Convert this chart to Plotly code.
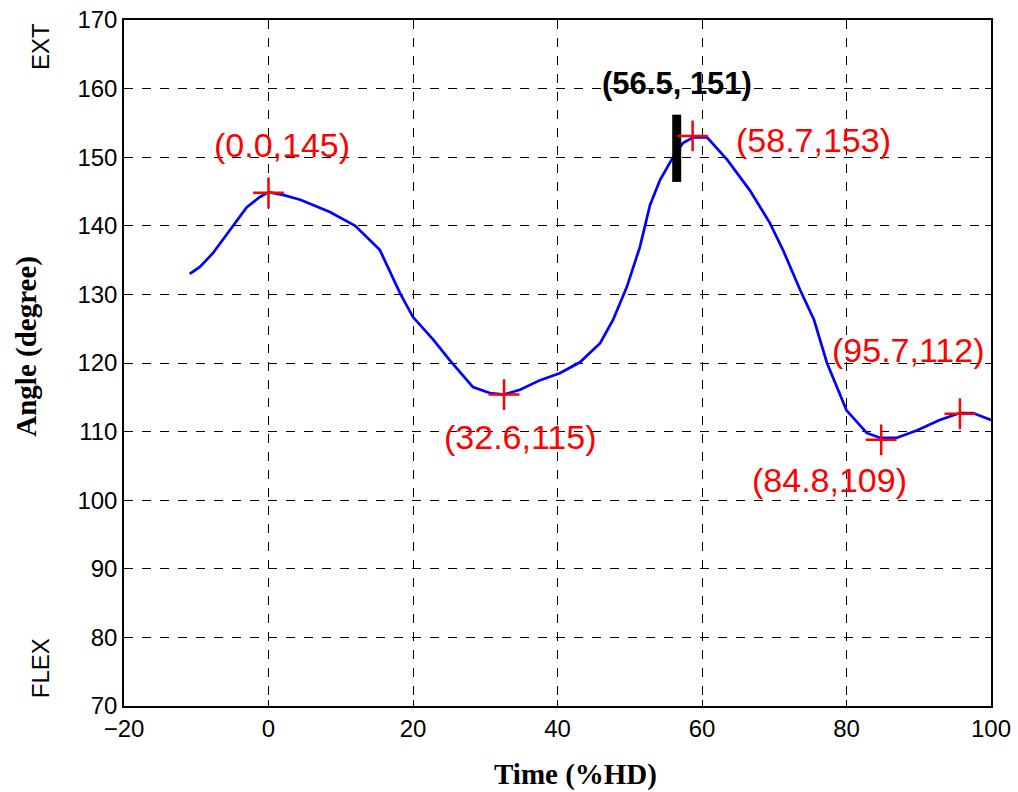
import plotly.graph_objects as go

# Curve data
curve_x = [-10.9, -9.5, -7.7, -5.3, -3.0, -1.2, 0, 2.0, 4.4, 8.5, 12, 15.4, 18.2, 20, 22.8, 25.1,
           28.3, 30.7, 32.6, 34.8, 37.6, 40.3, 43.1, 45.9, 47.7, 49.6, 51.4, 52.8, 54.2, 56.0,
           57.4, 58.8, 60.7, 63.5, 66.6, 69.4, 71.2, 73.6, 75.5, 77.3, 78.7, 80.0, 82.8, 84.6,
           87.0, 89.8, 92.9, 95.7, 97.5, 100]
curve_y = [133.0, 134.0, 136.0, 139.4, 142.7, 144.2, 144.9, 144.5, 143.8, 142.0, 140.0, 136.5,
           130.2, 126.7, 123.4, 120.4, 116.5, 115.6, 115.4, 116.1, 117.5, 118.5, 120.1, 122.9,
           126.3, 131.1, 136.9, 143.0, 146.7, 150.0, 152.1, 152.9, 152.9, 149.6, 145.2, 140.4,
           136.5, 130.6, 126.3, 120.0, 116.5, 113.1, 109.8, 109.1, 109.1, 110.2, 111.7, 112.7,
           112.7, 111.7]

# Marked extrema
peak_x = [0.0, 32.6, 58.7, 84.8, 95.7]
peak_y = [144.8, 115.4, 153.1, 108.8, 112.6]
peak_labels = ["(0.0,145)", "(32.6,115)", "(58.7,153)", "(84.8,109)", "(95.7,112)"]
label_x = [1.9, 34.8, 75.4, 77.7, 88.5]
label_y = [151.8, 109.2, 152.5, 102.9, 121.9]

# Cursor bar
bar_x = [56.5, 56.5]
bar_y = [146.4, 156.2]
bar_label = "(56.5, 151)"
bar_label_pos = (56.6, 160.8)

x_ticks = [-20, 0, 20, 40, 60, 80, 100]
y_ticks = [70, 80, 90, 100, 110, 120, 130, 140, 150, 160, 170]

fig = go.Figure()
fig.add_trace(go.Scatter(x=curve_x, y=curve_y, mode="lines",
                         line=dict(color="#0000ff", width=2.7), showlegend=False))
fig.add_trace(go.Scatter(x=bar_x, y=bar_y, mode="lines",
                         line=dict(color="black", width=9), showlegend=False))
fig.add_trace(go.Scatter(x=peak_x, y=peak_y, mode="markers",
                         marker=dict(symbol="cross-thin", size=22, color="red",
                                     line=dict(color="red", width=2.5)),
                         showlegend=False))

annotations = []
for lx, ly, t in zip(label_x, label_y, peak_labels):
    annotations.append(dict(x=lx, y=ly, xref="x", yref="y", text=t, showarrow=False,
                            font=dict(family="Liberation Sans, Arial", size=34, color="red")))
annotations.append(dict(x=bar_label_pos[0], y=bar_label_pos[1], xref="x", yref="y",
                        text="<b>" + bar_label + "</b>", showarrow=False,
                        font=dict(family="Liberation Sans, Arial", size=31, color="black")))
annotations.append(dict(x=-0.097, y=0.962, xref="paper", yref="paper", text="EXT",
                        textangle=-90, showarrow=False, xanchor="center", yanchor="middle",
                        font=dict(family="Liberation Sans, Arial", size=24, color="black")))
annotations.append(dict(x=-0.097, y=0.055, xref="paper", yref="paper", text="FLEX",
                        textangle=-90, showarrow=False, xanchor="center", yanchor="middle",
                        font=dict(family="Liberation Sans, Arial", size=24, color="black")))
annotations.append(dict(x=-0.112, y=0.525, xref="paper", yref="paper", text="<b>Angle (degree)</b>",
                        textangle=-90, showarrow=False, xanchor="center", yanchor="middle",
                        font=dict(family="Liberation Serif, Times New Roman", size=29, color="black")))
annotations.append(dict(x=0.521, y=-0.100, xref="paper", yref="paper", text="<b>Time (%HD)</b>",
                        showarrow=False, xanchor="center", yanchor="middle",
                        font=dict(family="Liberation Serif, Times New Roman", size=29, color="black")))

axis_common = dict(showline=True, linecolor="black", linewidth=1.5, mirror="ticks",
                   ticks="inside", ticklen=6, tickcolor="black",
                   showgrid=True, gridcolor="black", griddash="dash", gridwidth=1,
                   zeroline=False, ticklabeloverflow="allow", automargin=False,
                   tickfont=dict(family="Liberation Sans, Arial", size=24, color="black"))

fig.update_layout(
    width=1018, height=792,
    margin=dict(l=124, r=27, t=20, b=86),
    paper_bgcolor="white", plot_bgcolor="white",
    xaxis=dict(range=[-20, 100], tickvals=x_ticks, **axis_common),
    yaxis=dict(range=[70, 170], tickvals=y_ticks, **axis_common),
    annotations=annotations,
)

fig.write_html("out.html", config={"displayModeBar": False},
               post_script="document.body.style.margin='0';document.body.style.overflow='hidden';")
